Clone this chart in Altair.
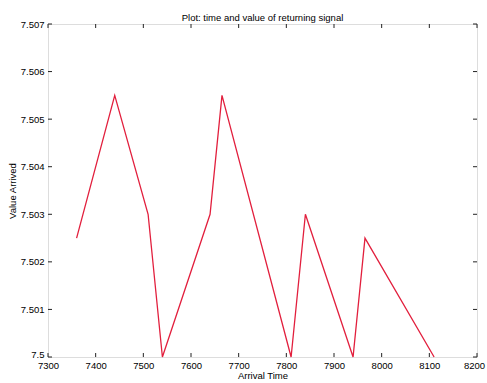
import altair as alt
import pandas as pd

# Arrival times and the values received at each one
arrival_time = [7360, 7440, 7510, 7540, 7640, 7665, 7810, 7840, 7940, 7965, 8110]
value_arrived = [7.5025, 7.5055, 7.503, 7.5, 7.503, 7.5055, 7.5, 7.503, 7.5, 7.5025, 7.5]

# Axis tick positions
x_ticks = [7300, 7400, 7500, 7600, 7700, 7800, 7900, 8000, 8100, 8200]
y_ticks = [7.5, 7.501, 7.502, 7.503, 7.504, 7.505, 7.506, 7.507]

W, H = 429, 333
FONT = "Liberation Sans"

signal = pd.DataFrame({"t": arrival_time, "v": value_arrived})
xt = pd.DataFrame({"t": x_ticks})
yt = pd.DataFrame({"v": y_ticks})

x_scale = alt.Scale(domain=[7300, 8200], nice=False, zero=False)
y_scale = alt.Scale(domain=[7.5, 7.507], nice=False, zero=False)

x_axis = alt.Axis(
    title="Arrival Time", values=x_ticks, format="d", grid=False,
    ticks=False, domain=False, labelPadding=3, titlePadding=1,
    labelFontSize=9.5, titleFontSize=9.5, labelColor="#000", titleColor="#000",
    titleFontWeight="normal", labelFont=FONT, titleFont=FONT, labelFlush=False,
    labelOffset={"condition": {"test": "datum.value == 8200", "value": -3}, "value": 0},
)
y_axis = alt.Axis(
    title="Value Arrived", values=y_ticks, grid=False,
    labelExpr="format(datum.value, '.3~f')",
    ticks=False, domain=False, labelPadding=4, titlePadding=3,
    labelFontSize=9.5, titleFontSize=9.5, labelColor="#000", titleColor="#000",
    titleFontWeight="normal", labelFont=FONT, titleFont=FONT, labelFlush=False,
    labelOffset={"condition": {"test": "datum.value == 7.5", "value": -3}, "value": 0},
)

line = alt.Chart(signal).mark_line(color="#e21f3d", strokeWidth=1.3).encode(
    x=alt.X("t:Q", scale=x_scale, axis=x_axis),
    y=alt.Y("v:Q", scale=y_scale, axis=y_axis),
)

# Inward tick marks on all four sides of the box
tick_style = dict(color="#222", strokeWidth=1)
xb = alt.Chart(xt).mark_rule(**tick_style).encode(
    x=alt.X("t:Q", scale=x_scale), y=alt.value(H), y2=alt.value(H - 4))
xtop = alt.Chart(xt).mark_rule(**tick_style).encode(
    x=alt.X("t:Q", scale=x_scale), y=alt.value(0), y2=alt.value(4))
yl = alt.Chart(yt).mark_rule(**tick_style).encode(
    y=alt.Y("v:Q", scale=y_scale), x=alt.value(0), x2=alt.value(4))
yr = alt.Chart(yt).mark_rule(**tick_style).encode(
    y=alt.Y("v:Q", scale=y_scale), x=alt.value(W), x2=alt.value(W - 4))

chart = (
    alt.layer(line, xb, xtop, yl, yr)
    .properties(
        width=W, height=H,
        title=alt.TitleParams(
            "Plot: time and value of returning signal",
            font=FONT, fontSize=9.5, fontWeight="normal", color="#000",
            anchor="middle", offset=-3,
        ),
        autosize=alt.AutoSizeParams(type="none"),
        padding={"left": 48, "top": 24, "right": 10, "bottom": 26},
    )
    .configure_view(stroke="#333", strokeWidth=1)
    .configure(background="white")
)

chart.save("out.html", embed_options={"renderer": "svg", "actions": False})
